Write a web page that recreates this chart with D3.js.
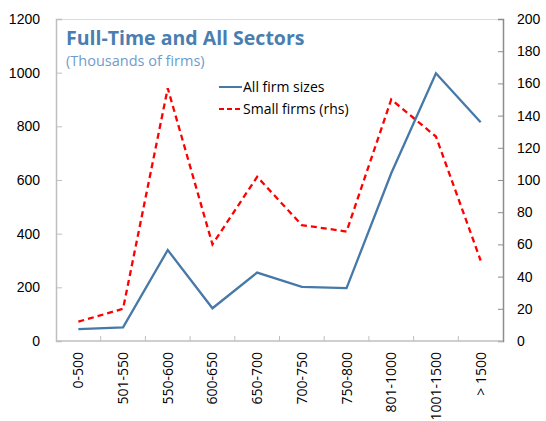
<!DOCTYPE html>
<html>
<head>
<meta charset="utf-8">
<script src="https://cdn.jsdelivr.net/npm/d3@7"></script>
<style>
  html, body { margin: 0; padding: 0; background: #fff; }
  svg { display: block; font-family: "Open Sans", "Noto Sans", sans-serif; }
</style>
</head>
<body>
<svg id="chart" width="546" height="421"></svg>
<script>
// Firm-size bands (thousands)
const categories = ["0-500", "501-550", "550-600", "600-650", "650-700",
                    "700-750", "750-800", "801-1000", "1001-1500", "> 1500"];
// All firm sizes, left axis
const allFirms = [44, 51, 339, 122, 255, 202, 197, 625, 998, 815];
// Small firms, right axis
const smallFirms = [12, 20, 157, 60, 102, 72, 68, 150, 127, 50];
const leftTicks = [0, 200, 400, 600, 800, 1000, 1200];
const rightTicks = [0, 20, 40, 60, 80, 100, 120, 140, 160, 180, 200];

const svg = d3.select("#chart");
const m = { left: 56, right: 503, top: 19, bottom: 341 };

const x = d3.scaleBand().domain(categories).range([m.left, m.right]);
const yL = d3.scaleLinear().domain([0, 1200]).range([m.bottom, m.top]);
const yR = d3.scaleLinear().domain([0, 200]).range([m.bottom, m.top]);

// plot frame top edge
svg.append("line")
  .attr("x1", m.left).attr("x2", m.right)
  .attr("y1", m.top + 0.5).attr("y2", m.top + 0.5)
  .attr("stroke", "#d9d9d9").attr("stroke-width", 1);

// left axis
const gL = svg.append("g").attr("transform", `translate(${m.left},0)`)
  .call(d3.axisLeft(yL).tickValues(leftTicks).tickFormat(d3.format("d"))
    .tickSize(-6).tickPadding(16));
gL.select(".domain").attr("stroke", "#bfbfbf").attr("stroke-width", 1.5);
gL.selectAll(".tick line").attr("stroke", "#bfbfbf");
gL.selectAll("text").attr("font-size", 14).attr("fill", "#000");

// right axis
const gR = svg.append("g").attr("transform", `translate(${m.right},0)`)
  .call(d3.axisRight(yR).tickValues(rightTicks).tickFormat(d3.format("d"))
    .tickSize(-5).tickPadding(14));
gR.select(".domain").attr("stroke", "#8c8c8c").attr("stroke-width", 1.5);
gR.selectAll(".tick line").attr("stroke", "#8c8c8c");
gR.selectAll("text").attr("font-size", 14).attr("fill", "#000");

// bottom axis with boundary ticks between bands
const gB = svg.append("g").attr("transform", `translate(0,${m.bottom})`);
gB.append("line").attr("x1", m.left).attr("x2", m.right)
  .attr("stroke", "#bfbfbf").attr("stroke-width", 1.5);
gB.selectAll("line.btick").data(categories.slice(1)).join("line")
  .attr("class", "btick")
  .attr("x1", d => x(d)).attr("x2", d => x(d))
  .attr("y1", 0).attr("y2", -5)
  .attr("stroke", "#bfbfbf");
gB.selectAll("text").data(categories).join("text")
  .attr("transform", d => `translate(${x(d) + x.bandwidth() / 2 + 5},11) rotate(-90)`)
  .attr("text-anchor", "end")
  .attr("font-size", 14)
  .attr("fill", "#000")
  .text(d => d);

const cx = d => x(d) + x.bandwidth() / 2;

// small firms (dashed, right scale)
svg.append("path")
  .datum(categories.map((c, i) => [c, smallFirms[i]]))
  .attr("fill", "none").attr("stroke", "#ff0000").attr("stroke-width", 2.3)
  .attr("stroke-dasharray", "6,4")
  .attr("d", d3.line().x(d => cx(d[0])).y(d => yR(d[1])));

// all firm sizes (solid, left scale)
svg.append("path")
  .datum(categories.map((c, i) => [c, allFirms[i]]))
  .attr("fill", "none").attr("stroke", "#4679a8").attr("stroke-width", 2.3)
  .attr("stroke-linejoin", "miter")
  .attr("d", d3.line().x(d => cx(d[0])).y(d => yL(d[1])));

// title
svg.append("text").attr("x", 66).attr("y", 45)
  .attr("font-size", 19.5).attr("font-weight", "bold").attr("fill", "#4a7eb0")
  .text("Full-Time and All Sectors");
svg.append("text").attr("x", 66).attr("y", 66)
  .attr("font-size", 14.5).attr("fill", "#6f9ccc")
  .text("(Thousands of firms)");

// legend
const legend = [
  { label: "All firm sizes", color: "#4679a8", dash: null },
  { label: "Small firms (rhs)", color: "#ff0000", dash: "5,3" }
];
const lg = svg.append("g").attr("transform", "translate(219,87)");
legend.forEach((d, i) => {
  const row = lg.append("g").attr("transform", `translate(0,${i * 22})`);
  row.append("line").attr("x1", 0).attr("x2", 23).attr("y1", 0).attr("y2", 0)
    .attr("stroke", d.color).attr("stroke-width", 2)
    .attr("stroke-dasharray", d.dash);
  row.append("text").attr("x", 24).attr("y", 5)
    .attr("font-size", 14).attr("fill", "#000").text(d.label);
});
</script>
</body>
</html>
